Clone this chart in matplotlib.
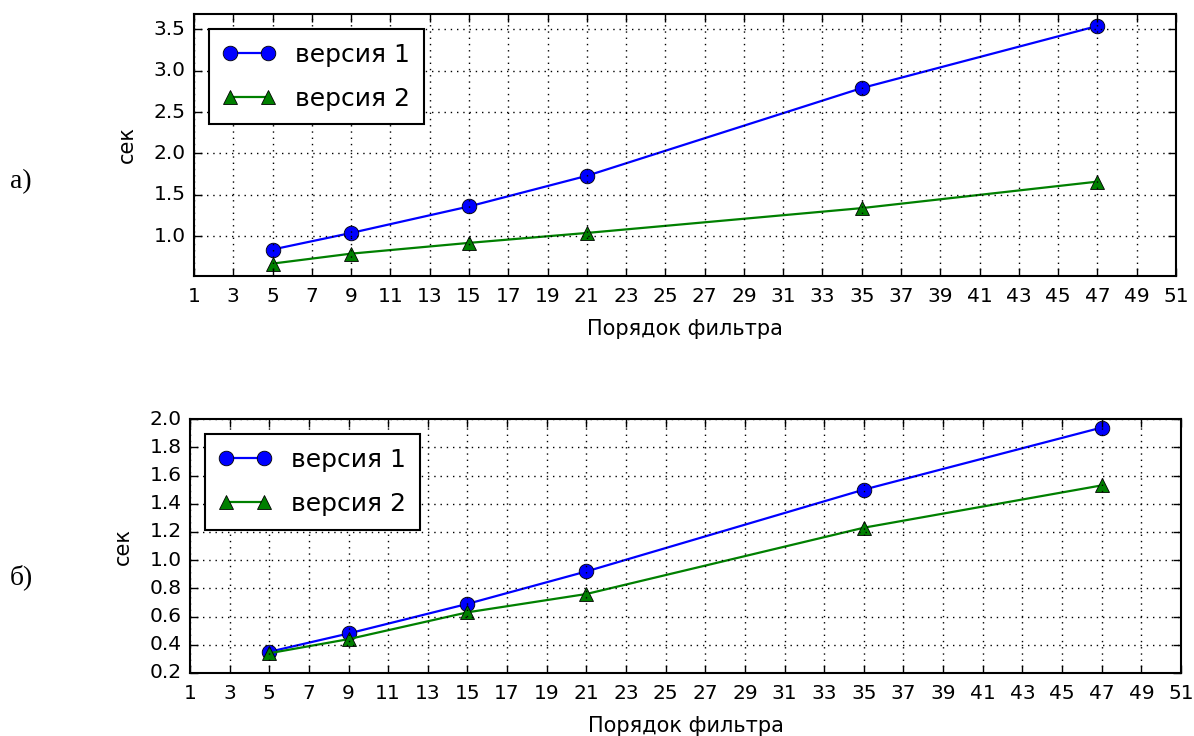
import matplotlib
matplotlib.use('Agg')
import matplotlib.pyplot as plt
from matplotlib.ticker import FormatStrFormatter

# Filter orders (x) and run times in seconds
orders = [5, 9, 15, 21, 35, 47]

# a) top panel
top_v1 = [0.84, 1.04, 1.36, 1.73, 2.79, 3.54]
top_v2 = [0.67, 0.79, 0.92, 1.04, 1.34, 1.66]

# b) bottom panel
bot_v1 = [0.35, 0.48, 0.69, 0.92, 1.50, 1.94]
bot_v2 = [0.34, 0.44, 0.63, 0.76, 1.23, 1.53]

series_labels = ['версия 1', 'версия 2']
x_ticks = list(range(1, 52, 2))
top_yticks = [1.0, 1.5, 2.0, 2.5, 3.0, 3.5]
bot_yticks = [0.2, 0.4, 0.6, 0.8, 1.0, 1.2, 1.4, 1.6, 1.8, 2.0]

plt.style.use('classic')
plt.rcParams['font.family'] = ['DejaVu Sans']

fig = plt.figure(figsize=(11.94, 7.36), dpi=100, facecolor='white')
ax_top = fig.add_axes([0.1625, 0.625, 0.8224, 0.356])
ax_bot = fig.add_axes([0.1591, 0.0856, 0.830, 0.345])


def draw_panel(ax, v1, v2, yticks, ylim):
    ax.plot(orders, v1, color='#0000ff', marker='o', markersize=10.5, lw=1.6,
            markeredgecolor='black', markeredgewidth=0.6, label=series_labels[0])
    ax.plot(orders, v2, color='#008000', marker='^', markersize=10.5, lw=1.6,
            markeredgecolor='black', markeredgewidth=0.6, label=series_labels[1])
    ax.set_xlim(1, 51)
    ax.set_ylim(*ylim)
    ax.set_xticks(x_ticks)
    ax.set_yticks(yticks)
    ax.yaxis.set_major_formatter(FormatStrFormatter('%.1f'))
    ax.grid(True, color='black', linestyle=(0, (1, 3.5)), linewidth=1)
    ax.tick_params(direction='in', length=6, width=1, labelsize=14.5,
                   top=True, right=True, pad=6)
    ax.tick_params(axis='x', pad=8)
    for sp in ax.spines.values():
        sp.set_linewidth(1.5)
    ax.set_xlabel('Порядок фильтра', fontsize=15, labelpad=9)
    ax.set_ylabel('сек', fontsize=15, labelpad=12)
    leg = ax.legend(loc='upper left', fontsize=18, numpoints=2, fancybox=False,
                    borderaxespad=0.6, borderpad=0.55, handlelength=2.1,
                    labelspacing=0.8)
    leg.get_frame().set_edgecolor('black')
    leg.get_frame().set_linewidth(1.5)


draw_panel(ax_top, top_v1, top_v2, top_yticks, (0.52, 3.685))
draw_panel(ax_bot, bot_v1, bot_v2, bot_yticks, (0.2, 2.0))

fig.text(10 / 1194, 1 - 182 / 736, 'а)', fontsize=20, family='Liberation Serif',
         va='center', ha='left')
fig.text(10 / 1194, 1 - 577 / 736, 'б)', fontsize=20, family='Liberation Serif',
         va='center', ha='left')

fig.savefig('out.png', dpi=100, facecolor='white')
